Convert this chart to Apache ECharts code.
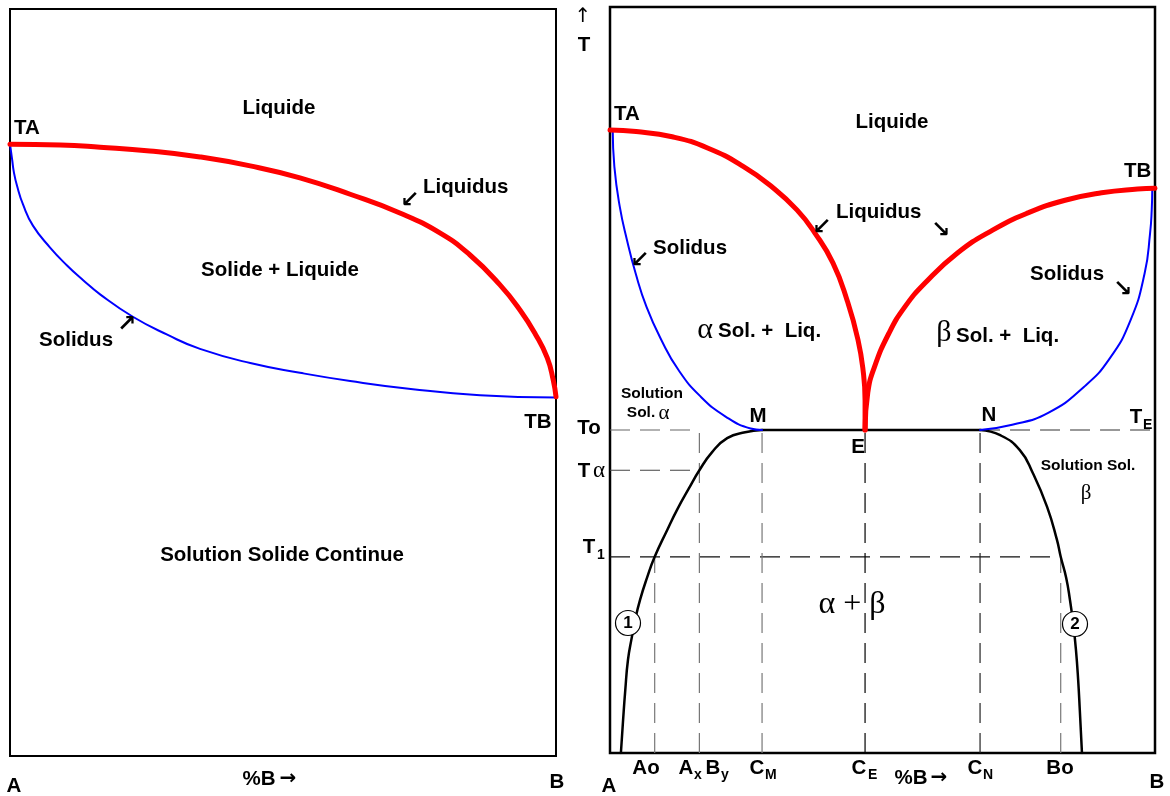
<!DOCTYPE html>
<html><head><meta charset="utf-8">
<script src="https://cdn.jsdelivr.net/npm/echarts@6/dist/echarts.min.js"></script>
<style>html,body{margin:0;padding:0;background:#fff}#c{width:1170px;height:796px}</style>
</head><body><div id="c"></div>
<script>
// ---------- Left diagram: complete solid solubility (x = %B, y = T, arbitrary units) ----------
const leftLiquidus = [[0,81.9],[9.2,81.8],[16.5,81.5],[25.6,81.0],[34.8,80.2],[44.0,79.0],[53.1,77.4],[62.3,75.2],[71.4,72.7],[78.8,70.0],[84.2,67.1],[89.7,63.1],[93.4,59.7],[96.2,56.5],[98.4,53.3],[99.5,50.3],[100,48.1]];
const leftSolidus = [[0,81.9],[0.4,79.8],[0.7,78.2],[1.3,76.3],[2.4,73.8],[4.2,71.0],[7.3,68.1],[10.4,65.7],[13.4,63.7],[16.5,61.8],[22.5,58.8],[28.8,56.4],[34.8,54.5],[44.0,52.6],[53.1,51.3],[62.3,50.2],[73.8,49.1],[86.1,48.3],[100,48.0]];

// ---------- Right diagram: eutectic with partial solubility ----------
const liquidusA = [[0,83.5],[4.8,83.3],[11.4,82.6],[17.9,81.1],[24.5,78.6],[29.7,75.9],[34.3,72.8],[37.6,69.7],[40.9,65.7],[43.5,60.7],[45.5,55.4],[46.5,50.9],[46.8,47.3],[46.8,43.3]];
const liquidusB = [[46.8,43.3],[47.3,48.3],[48.5,51.7],[51.2,56.3],[54.1,59.8],[57.8,63.0],[63.7,67.0],[70.2,70.1],[76.7,72.4],[83.5,74.1],[90.2,75.1],[96.8,75.6],[100,75.7]];
const solidusA = [[0.5,83.5],[0.8,78.6],[1.8,73.2],[3.1,68.8],[4.7,64.3],[6.7,59.8],[9.4,55.4],[12.6,51.3],[16.6,47.8],[21.2,45.1],[25.8,43.5],[27.9,43.3]];
const solidusB = [[67.9,43.3],[73.8,44.0],[80.4,45.6],[87.0,49.1],[91.7,52.9],[95.5,58.0],[98.1,64.3],[99.1,69.7],[99.4,72.8],[99.5,75.7]];
const solvusA = [[27.9,43.3],[24.8,43.0],[21.5,42.2],[18.7,40.3],[16.4,37.9],[14.5,35.5],[12.3,32.6],[10.5,29.9],[8.2,26.3],[6.8,23.5],[5.5,20.5],[4.6,17.8],[4.0,15.5],[3.3,12.5],[2.8,8.4],[2.4,4.4],[2.0,0]];
const solvusB = [[67.9,43.3],[71.6,42.6],[75.2,40.6],[77.6,37.5],[80.2,33.0],[82.0,28.6],[82.7,26.3],[83.7,23.5],[84.4,20.5],[85.0,17.3],[85.5,13.8],[85.9,9.8],[86.2,5.8],[86.6,0]];

// reference temperatures and compositions
const T_o = 43.3, T_alpha = 37.9, T_1 = 26.3;
const C_Ao = 8.2, C_AxBy = 16.4, C_M = 27.9, C_E = 46.8, C_N = 67.9, C_Bo = 82.7;

const chart = echarts.init(document.getElementById('c'), null, {renderer:'canvas'});
const SANS = 'Liberation Sans, Arial, sans-serif';
const SERIF = 'Liberation Serif, Times New Roman, serif';
const ARROWF = 'DejaVu Sans, sans-serif';

function line(data, gi, color, width, z, extra) {
  return Object.assign({
    type:'line', data, xAxisIndex:gi, yAxisIndex:gi, showSymbol:false, symbol:'none',
    smooth:0.5, lineStyle:{color, width, cap:'round', join:'round'}, z, silent:true, animation:false
  }, extra||{});
}
function dash(data, color) {
  return {type:'line', data, xAxisIndex:1, yAxisIndex:1, showSymbol:false, symbol:'none',
    lineStyle:{color, width:1.2, type:[20,10]}, z:1, silent:true, animation:false};
}

const eutectic = [[C_M,T_o],[C_N,T_o]];
const series = [
  line(leftSolidus, 0, '#0000ff', 2, 3),
  line(leftLiquidus, 0, '#ff0000', 5, 4),
  dash([[0,T_o],[C_AxBy,T_o]], '#666'),
  dash([[0,T_alpha],[C_AxBy,T_alpha]], '#444'),
  dash([[0,T_1],[C_Bo,T_1]], '#111'),
  dash([[C_N,T_o],[100,T_o]], '#333'),
  dash([[C_Ao,0],[C_Ao,T_1]], '#777'),
  dash([[C_AxBy,0],[C_AxBy,T_o]], '#777'),
  dash([[C_M,0],[C_M,T_o]], '#777'),
  dash([[C_E,0],[C_E,T_o]], '#000'),
  dash([[C_N,0],[C_N,T_o]], '#222'),
  dash([[C_Bo,0],[C_Bo,T_1]], '#777'),
  line(solvusA, 1, '#000', 2.5, 2),
  line(solvusB, 1, '#000', 2.5, 2),
  line(eutectic, 1, '#000', 2.5, 2, {smooth:false}),
  line(solidusA, 1, '#0000ff', 2, 3),
  line(solidusB, 1, '#0000ff', 2, 3),
  line(liquidusA, 1, '#ff0000', 5, 4),
  line(liquidusB, 1, '#ff0000', 5, 4)
];

function T(x, y, text, o) {
  o = o || {};
  return {type:'text', x, y, z:10, silent:true, style:{
    text, fill:'#000', fontFamily:o.family||SANS, fontWeight:o.weight||'bold',
    fontSize:o.size||20.5, textAlign:o.align||'center', textVerticalAlign:'middle'}};
}
const serif = (s)=>({family:SERIF, weight:'normal', size:s});
const arrow = {family:ARROWF, size:23};
const g = [
  // left diagram
  T(14,128,'TA',{align:'left'}),
  T(279,108,'Liquide'),
  T(423,187,'Liquidus',{align:'left'}),
  T(410,201,'↙',arrow),
  T(280,270,'Solide + Liquide'),
  T(39,340,'Solidus',{align:'left'}),
  T(127,325,'↗',arrow),
  T(538,422,'TB'),
  T(282,555,'Solution Solide Continue'),
  T(14,786,'A'),
  T(259,779,'%B'),
  T(288,779,'→',{family:ARROWF, size:20}),
  T(557,782,'B'),
  // right diagram
  T(583,17,'↑',{family:ARROWF, size:20, weight:'normal'}),
  T(584,45,'T'),
  T(614,114,'TA',{align:'left'}),
  T(892,122,'Liquide'),
  T(836,212,'Liquidus',{align:'left'}),
  T(822,228,'↙',arrow),
  T(941,231,'↘',arrow),
  T(653,248,'Solidus',{align:'left'}),
  T(640,261,'↙',arrow),
  T(1030,274,'Solidus',{align:'left'}),
  T(1123,290,'↘',arrow),
  T(1124,171,'TB',{align:'left'}),
  T(705,330,'α',serif(30)),
  T(718,331,'Sol. +  Liq.',{align:'left'}),
  T(944,333,'β',serif(30)),
  T(956,336,'Sol. +  Liq.',{align:'left'}),
  T(652,394,'Solution',{size:15.5}),
  T(641,413,'Sol.',{size:15.5}),
  T(664,413,'α',serif(21)),
  T(758,416,'M'),
  T(858,447,'E'),
  T(989,415,'N'),
  T(1136,417,'T'),
  T(1143,425,'E',{align:'left', size:14}),
  T(589,428,'To'),
  T(584,471,'T'),
  T(599,471,'α',serif(23)),
  T(589,547,'T'),
  T(597,555,'1',{align:'left', size:14}),
  T(1088,466,'Solution Sol.',{size:15.5}),
  T(1086,493,'β',serif(21)),
  T(852,605,'α + β',serif(32)),
  T(609,786,'A'),
  T(646,768,'Ao'),
  T(686,768,'A'),
  T(694,775,'x',{align:'left', size:14}),
  T(713,768,'B'),
  T(721,775,'y',{align:'left', size:14}),
  T(757,768,'C'),
  T(765,775,'M',{align:'left', size:14}),
  T(859,768,'C'),
  T(868,775,'E',{align:'left', size:14}),
  T(911,778,'%B'),
  T(939,778,'→',{family:ARROWF, size:20}),
  T(975,768,'C'),
  T(983,775,'N',{align:'left', size:14}),
  T(1060,768,'Bo'),
  T(1157,782,'B'),
  {type:'circle', shape:{cx:628, cy:623, r:12.5}, z:9, style:{fill:'#fff', stroke:'#000', lineWidth:1.2}},
  T(628,623,'1',{size:17}),
  {type:'circle', shape:{cx:1075, cy:624, r:12.5}, z:9, style:{fill:'#fff', stroke:'#000', lineWidth:1.2}},
  T(1075,624,'2',{size:17})
];

const axisX = (gi)=>({type:'value', gridIndex:gi, min:0, max:100, show:false});
const axisY = (gi)=>({type:'value', gridIndex:gi, min:0, max:100, show:false});
chart.setOption({
  animation:false,
  backgroundColor:'#fff',
  grid:[
    {left:10, top:9, width:546, height:747, show:true, borderColor:'#000', borderWidth:2, backgroundColor:'transparent'},
    {left:610, top:7, width:545, height:746, show:true, borderColor:'#000', borderWidth:2.5, backgroundColor:'transparent'}
  ],
  xAxis:[axisX(0), axisX(1)],
  yAxis:[axisY(0), axisY(1)],
  series,
  graphic:g
});
</script></body></html>
